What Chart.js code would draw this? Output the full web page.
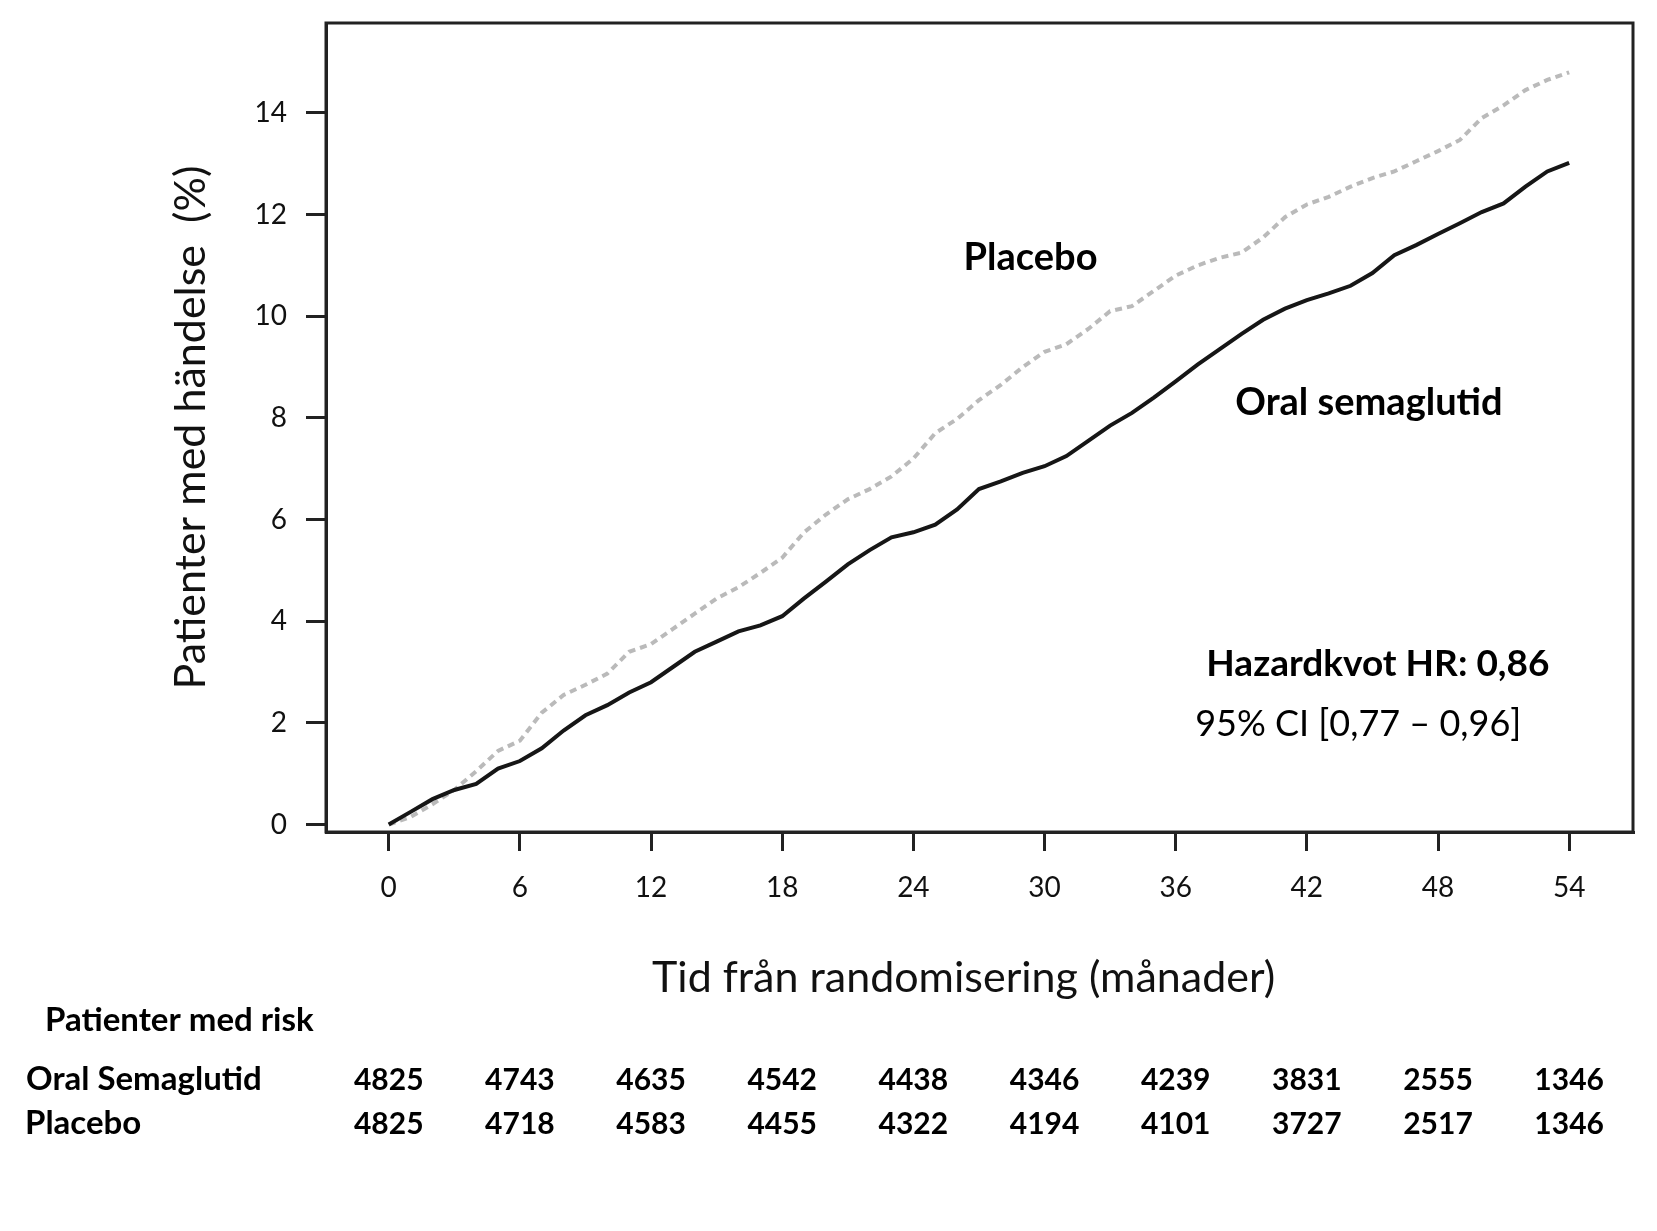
<!DOCTYPE html>
<html>
<head>
<meta charset="utf-8">
<script src="https://cdn.jsdelivr.net/npm/chart.js@4.4.1/dist/chart.umd.min.js"></script>
<style>
  body { margin: 0; background: #fff; }
  #wrap { width: 1657px; height: 1231px; }
</style>
</head>
<body>
<div id="wrap"><canvas id="myChart" width="1657" height="1231"></canvas></div>
<script>
// months from randomisation
let months = [0, 1, 2, 3, 4, 5, 6, 7, 8, 9, 10, 11, 12, 13, 14, 15, 16, 17, 18, 19, 20,
    21, 22, 23, 24, 25, 26, 27, 28, 29, 30, 31, 32, 33, 34, 35, 36, 37, 38, 39, 40,
    41, 42, 43, 44, 45, 46, 47, 48, 49, 50, 51, 52, 53, 54];
// cumulative % with event
let semaglutid = [0, 0.25, 0.5, 0.68, 0.8, 1.1, 1.25, 1.5, 1.85, 2.15, 2.35, 2.6, 2.8, 3.1,
    3.4, 3.6, 3.8, 3.92, 4.1, 4.45, 4.78, 5.12, 5.4, 5.65, 5.75, 5.9, 6.2, 6.6, 6.75,
    6.92, 7.05, 7.25, 7.55, 7.85, 8.1, 8.4, 8.72, 9.05, 9.35, 9.65, 9.93, 10.15, 10.32,
    10.45, 10.6, 10.85, 11.2, 11.4, 11.62, 11.83, 12.05, 12.22, 12.55, 12.85, 13.02];
let placebo = [0, 0.15, 0.4, 0.68, 1.05, 1.45, 1.65, 2.2, 2.55, 2.75, 2.97, 3.4, 3.55, 3.85,
    4.15, 4.45, 4.67, 4.95, 5.25, 5.75, 6.1, 6.4, 6.6, 6.85, 7.2, 7.7, 7.98, 8.35, 8.65,
    9.0, 9.3, 9.45, 9.75, 10.1, 10.2, 10.5, 10.8, 11.0, 11.15, 11.25, 11.55, 11.95, 12.2,
    12.35, 12.55, 12.72, 12.85, 13.05, 13.25, 13.47, 13.9, 14.15, 14.45, 14.65, 14.8];

// axis ticks
let xTicks = [0, 6, 12, 18, 24, 30, 36, 42, 48, 54];
let yTicks = [0, 2, 4, 6, 8, 10, 12, 14];

// patients at risk, one value per x tick
let riskSema = [4825, 4743, 4635, 4542, 4438, 4346, 4239, 3831, 2555, 1346];
let riskPlacebo = [4825, 4718, 4583, 4455, 4322, 4194, 4101, 3727, 2517, 1346];

let font = "Lato, 'Open Sans', sans-serif";

function toPoints(ys) {
    return months.map((m, i) => ({x: m, y: ys[i]}));
}

// keep the plot box where it is, whatever the tick labels measure
function noPad(s) {
    s.paddingLeft = 0;
    s.paddingRight = 0;
    s.paddingTop = 0;
    s.paddingBottom = 0;
}

// frame around the plot, labels inside the plot, x title and the risk table
let extras = {
    id: 'extras',
    afterDraw(chart) {
        let ctx = chart.ctx;
        let a = chart.chartArea;
        let x = chart.scales.x;
        let y = chart.scales.y;
        ctx.save();
        ctx.strokeStyle = '#222';
        ctx.lineWidth = 3;
        ctx.strokeRect(a.left, a.top, a.right - a.left, a.bottom - a.top);

        ctx.fillStyle = '#000';
        ctx.textBaseline = 'middle';
        ctx.textAlign = 'center';
        ctx.font = "bold 38px " + font;
        ctx.fillText('Placebo', x.getPixelForValue(29.36), y.getPixelForValue(11.16));
        ctx.fillText('Oral semaglutid', x.getPixelForValue(44.84), y.getPixelForValue(8.29));
        ctx.font = "bold 37px " + font;
        ctx.fillText('Hazardkvot HR: 0,86', x.getPixelForValue(45.25), y.getPixelForValue(3.16));
        ctx.font = "36px " + font;
        ctx.fillText('95% CI [0,77 \u2013 0,96]', x.getPixelForValue(44.35), y.getPixelForValue(1.97));

        ctx.fillStyle = '#111';
        ctx.font = "43px " + font;
        ctx.fillText('Tid från randomisering (månader)', x.getPixelForValue(26.3), 978);

        // risk table
        ctx.fillStyle = '#000';
        ctx.textAlign = 'left';
        ctx.font = "bold 33px " + font;
        ctx.fillText('Patienter med risk', 45, 1020);
        ctx.fillText('Oral Semaglutid', 26, 1079);
        ctx.fillText('Placebo', 25, 1123);
        ctx.textAlign = 'center';
        ctx.font = "bold 30px " + font;
        xTicks.forEach((t, i) => {
            let px = x.getPixelForValue(t);
            ctx.fillText(String(riskSema[i]), px, 1080);
            ctx.fillText(String(riskPlacebo[i]), px, 1124);
        });
        ctx.restore();
    }
};

let myChart1 = document.getElementById("myChart").getContext('2d');

let chart1 = new Chart(myChart1, {
    type: 'line',
    data: {
        datasets: [{
                label: 'Oral semaglutid',
                data: toPoints(semaglutid),
                borderColor: '#161616',
                borderWidth: 4,
                pointRadius: 0,
                tension: 0
            }, {
                label: 'Placebo',
                data: toPoints(placebo),
                borderColor: '#bababa',
                borderWidth: 4,
                borderDash: [7, 5],
                pointRadius: 0,
                tension: 0
            }]
    },
    options: {
        responsive: false,
        animation: false,
        devicePixelRatio: 1,
        layout: {padding: {left: 0, top: 23, right: 24, bottom: 225}},
        plugins: {
            legend: {display: false},
            tooltip: {enabled: false}
        },
        scales: {
            x: {
                type: 'linear',
                min: -2.87,
                max: 56.92,
                afterFit: s => { s.height = 174; noPad(s); },
                afterBuildTicks: s => { s.ticks = xTicks.map(v => ({value: v})); },
                grid: {drawOnChartArea: false, drawTicks: true, tickLength: 19, color: '#222', lineWidth: 3},
                border: {display: true, color: '#222', width: 3},
                ticks: {color: '#111', padding: 20, maxRotation: 0, font: {family: font, size: 28}}
            },
            y: {
                min: -0.146,
                max: 15.77,
                afterFit: s => { s.width = 326; noPad(s); },
                afterBuildTicks: s => { s.ticks = yTicks.map(v => ({value: v})); },
                grid: {drawOnChartArea: false, drawTicks: true, tickLength: 20, color: '#222', lineWidth: 3},
                border: {display: true, color: '#222', width: 3},
                ticks: {color: '#111', padding: 19, font: {family: font, size: 28}},
                title: {
                    display: true,
                    text: 'Patienter med händelse  (%)',
                    color: '#111',
                    font: {family: font, size: 43},
                    padding: {top: 165, bottom: 0}
                }
            }
        }
    },
    plugins: [extras]
});
</script>
</body>
</html>
